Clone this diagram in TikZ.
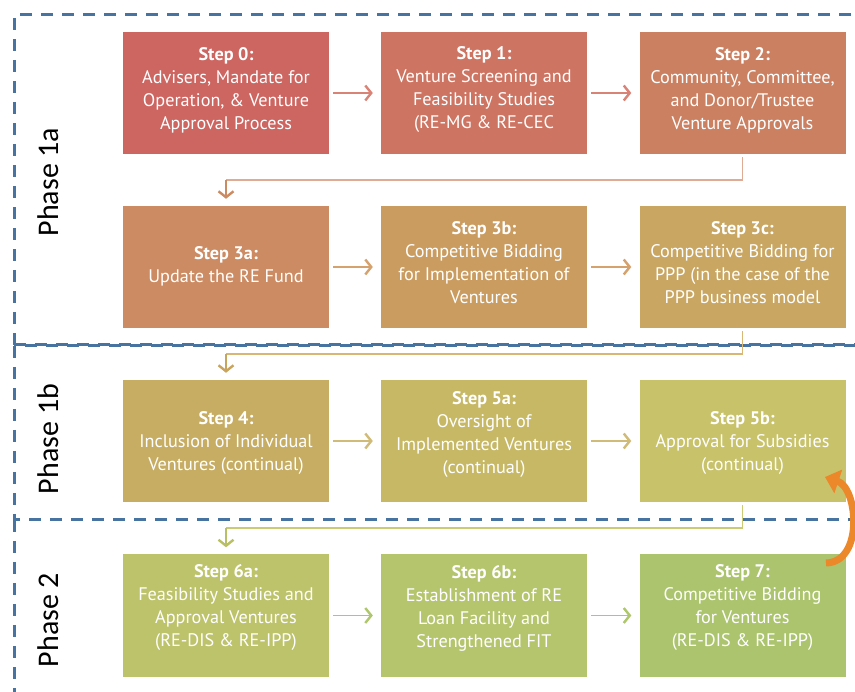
\documentclass[tikz,border=0pt]{standalone}
\usepackage{fontspec}
\setmainfont{PT Sans}
\newfontfamily\phasefont{Carlito}
\usetikzlibrary{arrows.meta}

% box fills, red through to green
\definecolor{cs0}{HTML}{CD6561}
\definecolor{cs1}{HTML}{CE7462}
\definecolor{cs2}{HTML}{CB8061}
\definecolor{cs3a}{HTML}{CC8B62}
\definecolor{cs3b}{HTML}{CB9C60}
\definecolor{cs3c}{HTML}{C9A662}
\definecolor{cs4}{HTML}{C7AD63}
\definecolor{cs5a}{HTML}{C7B865}
\definecolor{cs5b}{HTML}{C8C26A}
\definecolor{cs6a}{HTML}{BDC36B}
\definecolor{cs6b}{HTML}{B5C56D}
\definecolor{cs7}{HTML}{ABC46D}
% connectors
\definecolor{arr0}{HTML}{D98376}
\definecolor{arr1}{HTML}{D5A26E}
\definecolor{arr2}{HTML}{D0BC78}
\definecolor{arr3}{HTML}{AEC66C}
\definecolor{elb0}{HTML}{DFAB95}
\definecolor{elb0h}{HTML}{CC8A60}
\definecolor{elb1}{HTML}{D8B674}
\definecolor{elb1h}{HTML}{C9A45C}
\definecolor{elb2}{HTML}{CBCB74}
\definecolor{elb2h}{HTML}{B9C064}
\definecolor{phaseblue}{HTML}{46739F}
\definecolor{loopcolor}{HTML}{EC872A}

\tikzset{
  stepbox/.style={rectangle, minimum width=206pt, minimum height=122pt, inner sep=0pt, draw=none},
  steptxt/.style={text=white, align=center, font=\fontsize{18.2}{23}\selectfont, inner sep=0pt},
  phasebox/.style={draw=phaseblue, line width=3pt, dash pattern=on 12pt off 9pt},
  phaselbl/.style={rotate=90, font=\phasefont\fontsize{30}{34}\selectfont, inner sep=0pt},
  flow/.style={line width=1.6pt, -{Straight Barb[length=6pt,width=15pt,line width=2.4pt]}},
  elbow/.style={line width=1.6pt},
  elbowhead/.style={line width=1.6pt, -{Straight Barb[length=6pt,width=15pt,line width=2.4pt]}},
}

\begin{document}
\begin{tikzpicture}[x=1pt, y=-1pt]
\useasboundingbox (0,0) rectangle (855,692);
\begin{scope}
\clip (0,0) rectangle (855,692);

% phase frames
\draw[phasebox] (14,345) -- (14,15) -- (880,15);
\draw[phasebox] (14,345) -- (880,345);
\draw[phasebox, dash phase=10.5pt] (14,346) -- (880,346);
\draw[phasebox] (14,346) -- (14,520) -- (880,520);
\draw[phasebox] (14,520) -- (14,720);

% phase labels
\node[phaselbl] (p1a) at (48,182) {Phase 1a};
\node[phaselbl] (p1b) at (48,439) {Phase 1b};
\node[phaselbl] (p2)  at (48,620) {Phase 2};

% step boxes
\node[stepbox, fill=cs0]  (s0)  at (226,93) {};
\node[stepbox, fill=cs1]  (s1)  at (484,93) {};
\node[stepbox, fill=cs2]  (s2)  at (742.5,93) {};
\node[stepbox, fill=cs3a] (s3a) at (226,267) {};
\node[stepbox, fill=cs3b] (s3b) at (484,267) {};
\node[stepbox, fill=cs3c] (s3c) at (742.5,267) {};
\node[stepbox, fill=cs4]  (s4)  at (226,441) {};
\node[stepbox, fill=cs5a] (s5a) at (484,441) {};
\node[stepbox, fill=cs5b] (s5b) at (742.5,441) {};
\node[stepbox, fill=cs6a] (s6a) at (226,615.5) {};
\node[stepbox, fill=cs6b] (s6b) at (484,615.5) {};
\node[stepbox, fill=cs7]  (s7)  at (742.5,615.5) {};

% step texts
\node[steptxt] (t0)  at (226,90)   {\textbf{Step 0:}\\Advisers, Mandate for\\Operation, \& Venture\\Approval Process};
\node[steptxt] (t1)  at (484,90)   {\textbf{Step 1:}\\Venture Screening and\\Feasibility Studies\\(RE-MG \& RE-CEC};
\node[steptxt] (t2)  at (742.5,90) {\textbf{Step 2:}\\Community, Committee,\\and Donor/Trustee\\Venture Approvals};
\node[steptxt] (t3a) at (226,266)  {\textbf{Step 3a:}\\Update the RE Fund};
\node[steptxt] (t3b) at (484,263)  {\textbf{Step 3b:}\\Competitive Bidding\\for Implementation of\\Ventures};
\node[steptxt] (t3c) at (742.5,263){\textbf{Step 3c:}\\Competitive Bidding for\\PPP (in the case of the\\PPP business model};
\node[steptxt] (t4)  at (226,443)  {\textbf{Step 4:}\\Inclusion of Individual\\Ventures (continual)};
\node[steptxt] (t5a) at (484,435)  {\textbf{Step 5a:}\\Oversight of\\Implemented Ventures\\(continual)};
\node[steptxt] (t5b) at (742.5,443){\textbf{Step 5b:}\\Approval for Subsidies\\(continual)};
\node[steptxt] (t6a) at (226,608)  {\textbf{Step 6a:}\\Feasibility Studies and\\Approval Ventures\\(RE-DIS \& RE-IPP)};
\node[steptxt] (t6b) at (484,608)  {\textbf{Step 6b:}\\Establishment of RE\\Loan Facility and\\Strengthened FIT};
\node[steptxt] (t7)  at (742.5,608){\textbf{Step 7:}\\Competitive Bidding\\for Ventures\\(RE-DIS \& RE-IPP)};

% arrows within rows
\draw[flow, arr0, shorten <=4pt, shorten >=8pt] (s0) -- (s1);
\draw[flow, arr0, shorten <=4pt, shorten >=8pt] (s1) -- (s2);
\draw[flow, arr1, shorten <=4pt, shorten >=8pt] (s3a) -- (s3b);
\draw[flow, arr1, shorten <=4pt, shorten >=8pt] (s3b) -- (s3c);
\draw[flow, arr2, shorten <=4pt, shorten >=8pt] (s4) -- (s5a);
\draw[flow, arr2, shorten <=4pt, shorten >=8pt] (s5a) -- (s5b);
\draw[flow, arr3, shorten <=4pt, shorten >=8pt] (s6a) -- (s6b);
\draw[flow, arr3, shorten <=4pt, shorten >=8pt] (s6b) -- (s7);

% elbow connectors between rows
\coordinate (e0) at (742.5,180);
\coordinate (e0b) at (226,180);
\draw[elbow, elb0] ([yshift=-3pt]s2.south) -- (e0) -- (e0b);
\draw[elbowhead, elb0h, shorten >=7pt] (e0b) -- (s3a.north);

\coordinate (e1) at (742.5,354);
\coordinate (e1b) at (226,354);
\draw[elbow, elb1] ([yshift=-3pt]s3c.south) -- (e1) -- (e1b);
\draw[elbowhead, elb1h, shorten >=7pt] (e1b) -- (s4.north);

\coordinate (e2) at (742.5,528);
\coordinate (e2b) at (226,528);
\draw[elbow, elb2] ([yshift=-3pt]s5b.south) -- (e2) -- (e2b);
\draw[elbowhead, elb2h, shorten >=7pt] (e2b) -- (s6a.north);

% loop from step 7 back to step 5b
\coordinate (lp0) at (826,563);
\coordinate (lp1) at (825,477);
\draw[draw=loopcolor, line width=7pt, -{Triangle[length=14pt,width=24pt,fill=loopcolor]}]
  (lp0) .. controls (864,562) and (858,488) .. (lp1);
\end{scope}
\end{tikzpicture}
\end{document}
